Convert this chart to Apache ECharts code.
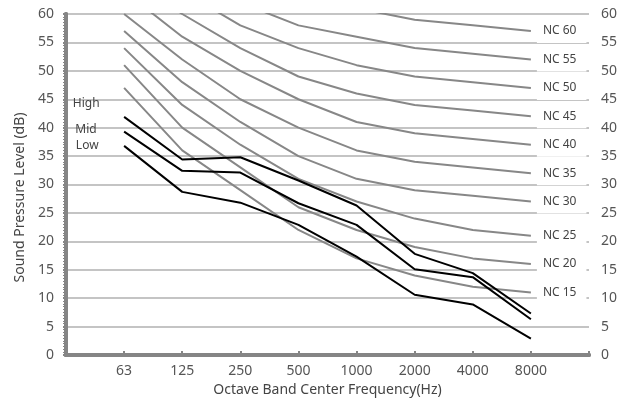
<!DOCTYPE html>
<html><head><meta charset="utf-8">
<script src="https://cdn.jsdelivr.net/npm/echarts@6/dist/echarts.min.js"></script>
<style>html,body{margin:0;padding:0;background:#fff}#c{width:627px;height:404px}</style>
</head><body><div id="c"></div>
<script>
const frequencies = ['63','125','250','500','1000','2000','4000','8000'];
const nc15 = [47,36,29,22,17,14,12,11];
const nc20 = [51,40,33,26,22,19,17,16];
const nc25 = [54,44,37,31,27,24,22,21];
const nc30 = [57,48,41,35,31,29,28,27];
const nc35 = [60,52,45,40,36,34,33,32];
const nc40 = [64,56,50,45,41,39,38,37];
const nc45 = [67,60,54,49,46,44,43,42];
const nc50 = [71,64,58,54,51,49,48,47];
const nc55 = [74,67,62,58,56,54,53,52];
const nc60 = [77,71,67,63,61,59,58,57];
const high = [41.9,34.4,34.8,30.7,26.3,17.8,14.4,7.3];
const mid  = [39.3,32.4,32.1,26.7,22.9,15.1,13.7,6.3];
const low  = [36.8,28.7,26.8,22.9,17.3,10.6,8.9,2.9];
const ncCurves = [['NC 15',nc15],['NC 20',nc20],['NC 25',nc25],['NC 30',nc30],['NC 35',nc35],['NC 40',nc40],['NC 45',nc45],['NC 50',nc50],['NC 55',nc55],['NC 60',nc60]];
const measured = [['High',high,[-19,-13]],['Mid',mid,[-22,-2]],['Low',low,[-20,0]]];

const FONT = "'Noto Sans', sans-serif";
const AX = '#858585';
function pts(arr){ return arr.map((v,i)=>[i+1, v]); }

const series = [];
ncCurves.forEach(([name, arr])=>{
  series.push({
    type:'line', name, data: pts(arr), symbol:'none', silent:true,
    lineStyle:{color:'#878787', width:2}, z:3,
    endLabel:{show:true, formatter:name, color:'#444', fontSize:12, fontFamily:FONT,
      distance:6, backgroundColor:'#fff', padding:[6,10,6,6]}
  });
});
measured.forEach(([name, arr, off])=>{
  series.push({type:'line', name, data:pts(arr), symbol:'none', silent:true,
    lineStyle:{color:'#000', width:2}, z:4,
    markPoint:{symbol:'circle', symbolSize:1, itemStyle:{color:'rgba(0,0,0,0)'}, silent:true,
      data:[{coord:[1, arr[0]], label:{show:true, formatter:name, position:'left', offset:off,
        color:'#444', fontSize:12, fontFamily:FONT}}]}
  });
});

const yBase = {
  type:'value', min:0, max:60, interval:5,
  axisLine:{show:true, lineStyle:{color:AX, width:4}},
  axisLabel:{color:'#555', fontSize:14, fontFamily:FONT, margin:12},
  minorTick:{show:true, splitNumber:10, length:3, lineStyle:{color:AX, width:1}},
  axisTick:{show:true, length:3, lineStyle:{color:AX, width:1}}
};

const chart = echarts.init(document.getElementById('c'), null, {renderer:'canvas'});
chart.setOption({
  animation:false,
  grid:{left:66, right:38, top:14, bottom:49, show:true, borderWidth:0},
  xAxis:[{
    type:'value', min:0, max:9, interval:1,
    name:'Octave Band Center Frequency(Hz)', nameLocation:'middle', nameGap:22,
    nameTextStyle:{color:'#444', fontSize:14, fontFamily:FONT},
    axisLine:{show:true, lineStyle:{color:AX, width:4}},
    axisTick:{show:true, inside:true, length:4, lineStyle:{color:AX, width:2}},
    axisLabel:{color:'#555', fontSize:14, fontFamily:FONT, margin:9,
      formatter:(v)=> (v>=1 && v<=frequencies.length) ? frequencies[v-1] : ''},
    splitLine:{show:false}
  },{
    type:'value', min:0, max:9, position:'top',
    axisLine:{show:true, lineStyle:{color:AX, width:4}},
    axisTick:{show:false}, axisLabel:{show:false}, splitLine:{show:false}
  }],
  yAxis:[Object.assign({}, yBase, {
    position:'left',
    name:'Sound Pressure Level (dB)', nameLocation:'middle', nameGap:33,
    nameTextStyle:{color:'#444', fontSize:14, fontFamily:FONT, padding:[0,26,0,0]},
    splitLine:{show:true, lineStyle:{color:'#c4c4c4', width:2}}
  }), Object.assign({}, yBase, {
    position:'right', splitLine:{show:false},
    axisTick:{show:true, inside:true, length:3, lineStyle:{color:AX, width:2}}
  })],
  series
});
</script></body></html>
